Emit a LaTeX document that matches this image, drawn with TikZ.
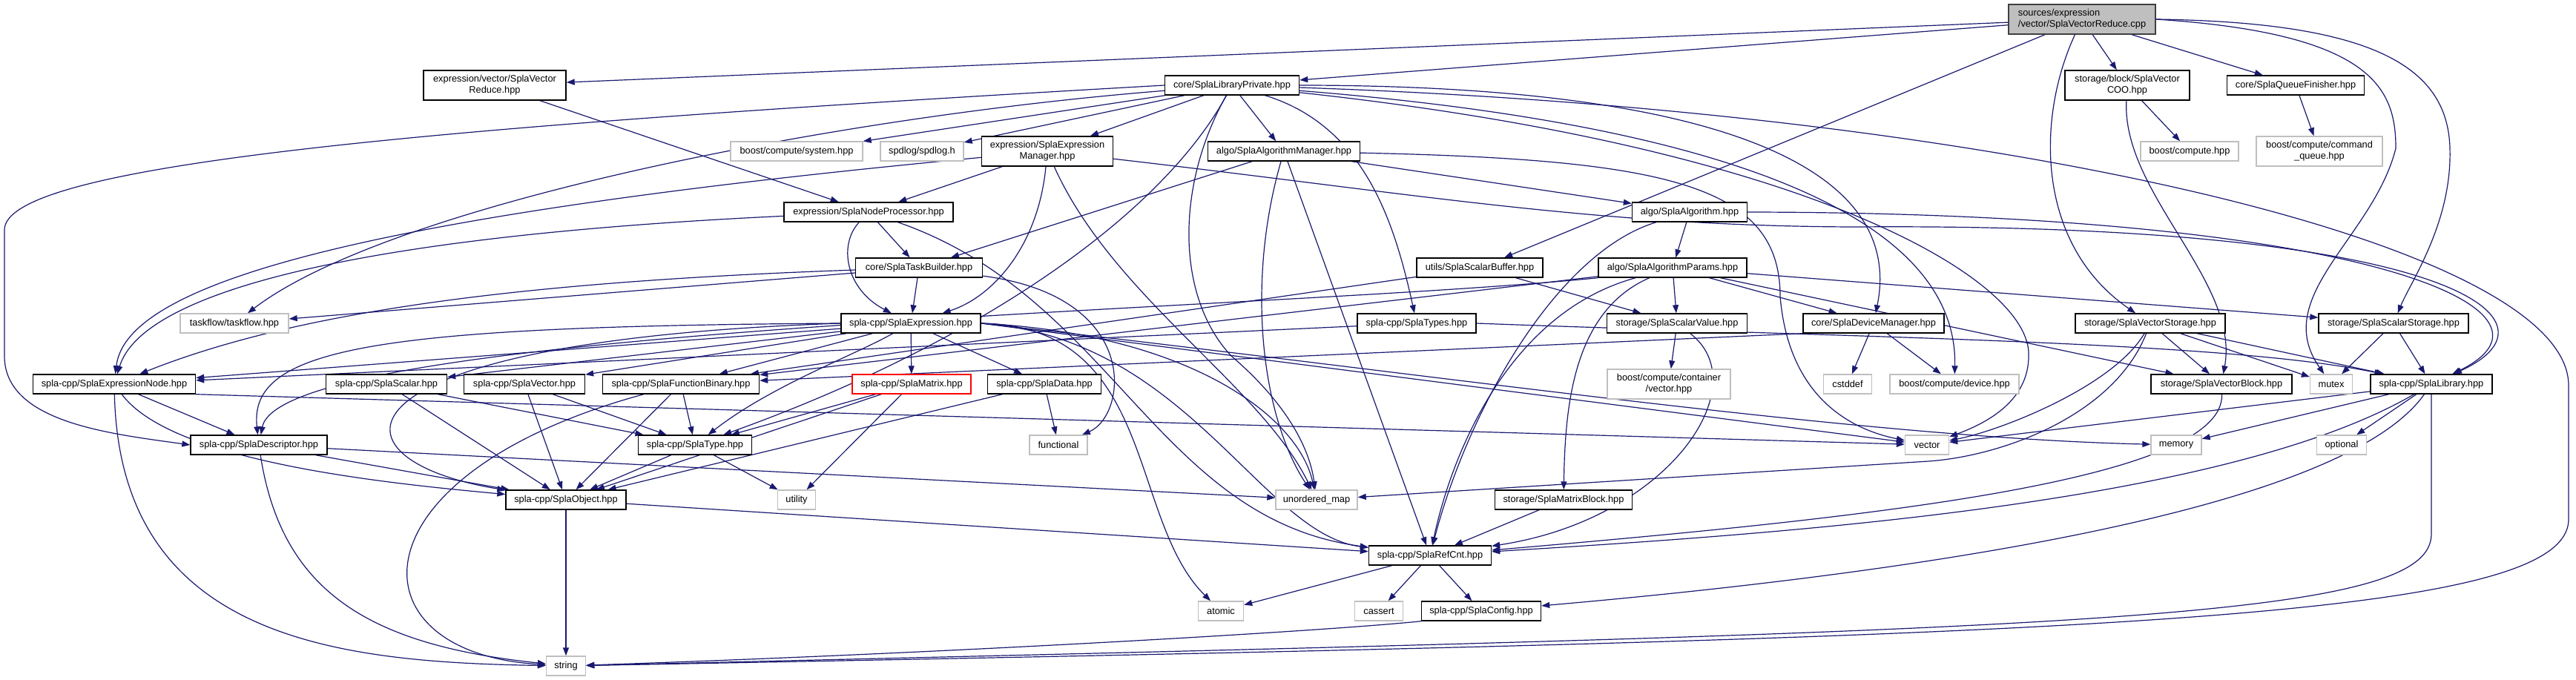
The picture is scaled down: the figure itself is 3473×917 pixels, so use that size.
\documentclass[tikz,border=0pt]{standalone}
\usepackage{fontspec}
\setmainfont{Liberation Sans}
\usetikzlibrary{arrows.meta,backgrounds}
\definecolor{edgec}{HTML}{191970}
\definecolor{extc}{HTML}{BFBFBF}
\definecolor{srcfill}{HTML}{BFBFBF}
\begin{document}
\begin{tikzpicture}[x=1pt,y=-1pt,
  every node/.style={font=\fontsize{12.8}{15}\selectfont, inner sep=0pt, outer sep=0.7pt, align=center, minimum height=26},
  docn/.style={draw=black, fill=white, line width=1.4pt},
  extn/.style={draw=extc, fill=white, line width=1.4pt},
  redn/.style={draw=red, fill=white, line width=1.4pt},
  srcn/.style={draw=black!75, fill=srcfill, line width=1.4pt, align=left, minimum height=40},
  two/.style={minimum height=40},
  edg/.style={draw=edgec, line width=1.2pt, -{Triangle[length=11pt,width=8pt]}}
]
\useasboundingbox (0,0) rectangle (3473,917);
% nodes
\node[srcn, minimum width=198] (src) at (2807,26) {sources/expression\\/vector/SplaVectorReduce.cpp};
\node[docn, two, minimum width=192] (VR) at (667,115) {expression/vector/SplaVector\\Reduce.hpp};
\node[docn, minimum width=181] (LP) at (1661,115) {core/SplaLibraryPrivate.hpp};
\node[docn, two, minimum width=168] (COO) at (2868,115) {storage/block/SplaVector\\COO.hpp};
\node[docn, minimum width=185] (QF) at (3095,115) {core/SplaQueueFinisher.hpp};
\node[extn, minimum width=178] (bsys) at (1074,204) {boost/compute/system.hpp};
\node[extn, minimum width=112] (spd) at (1243,204) {spdlog/spdlog.h};
\node[docn, two, minimum width=177] (EM) at (1412,204) {expression/SplaExpression\\Manager.hpp};
\node[docn, minimum width=205] (AM) at (1731,204) {algo/SplaAlgorithmManager.hpp};
\node[extn, minimum width=132] (bcomp) at (2952,204) {boost/compute.hpp};
\node[extn, two, minimum width=170] (cmdq) at (3127,204) {boost/compute/command\\\_queue.hpp};
\node[docn, minimum width=228] (NP) at (1171,286) {expression/SplaNodeProcessor.hpp};
\node[docn, minimum width=155] (SA) at (2278,286) {algo/SplaAlgorithm.hpp};
\node[docn, minimum width=171] (TB) at (1239,361) {core/SplaTaskBuilder.hpp};
\node[docn, minimum width=170] (SB) at (1995,361) {utils/SplaScalarBuffer.hpp};
\node[docn, minimum width=200] (AP) at (2255,361) {algo/SplaAlgorithmParams.hpp};
\node[extn, minimum width=146] (tf) at (316,436) {taskflow/taskflow.hpp};
\node[docn, minimum width=188] (SE) at (1228,436) {spla-cpp/SplaExpression.hpp};
\node[docn, minimum width=160] (Ty) at (1910,436) {spla-cpp/SplaTypes.hpp};
\node[docn, minimum width=189] (SV) at (2261,436) {storage/SplaScalarValue.hpp};
\node[docn, minimum width=190] (DM) at (2526,436) {core/SplaDeviceManager.hpp};
\node[docn, minimum width=202] (VS) at (2899,436) {storage/SplaVectorStorage.hpp};
\node[docn, minimum width=202] (SS) at (3227,436) {storage/SplaScalarStorage.hpp};
\node[docn, minimum width=219] (EN) at (154,518) {spla-cpp/SplaExpressionNode.hpp};
\node[docn, minimum width=163] (Sc) at (521,518) {spla-cpp/SplaScalar.hpp};
\node[docn, minimum width=163] (Ve) at (707,518) {spla-cpp/SplaVector.hpp};
\node[docn, minimum width=211] (FB) at (918,518) {spla-cpp/SplaFunctionBinary.hpp};
\node[redn, minimum width=160] (Ma) at (1229,518) {spla-cpp/SplaMatrix.hpp};
\node[docn, minimum width=153] (Da) at (1408,518) {spla-cpp/SplaData.hpp};
\node[extn, two, minimum width=166] (cvec) at (2250,518) {boost/compute/container\\/vector.hpp};
\node[extn, minimum width=65] (cst) at (2491,518) {cstddef};
\node[extn, minimum width=174] (bdev) at (2635,518) {boost/compute/device.hpp};
\node[docn, minimum width=190] (VB) at (2995,518) {storage/SplaVectorBlock.hpp};
\node[extn, minimum width=57] (mtx) at (3143,518) {mutex};
\node[docn, minimum width=164] (Lib) at (3278,518) {spla-cpp/SplaLibrary.hpp};
\node[docn, minimum width=184] (De) at (349,600) {spla-cpp/SplaDescriptor.hpp};
\node[docn, minimum width=153] (Typ) at (937,600) {spla-cpp/SplaType.hpp};
\node[extn, minimum width=78] (fun) at (1427,600) {functional};
\node[extn, minimum width=59] (vec) at (2598,600) {vector};
\node[extn, minimum width=68] (mem) at (2934,600) {memory};
\node[extn, minimum width=67] (opt) at (3157,600) {optional};
\node[docn, minimum width=162] (Ob) at (763,674) {spla-cpp/SplaObject.hpp};
\node[extn, minimum width=51] (uti) at (1074,674) {utility};
\node[extn, minimum width=110] (um) at (1775,674) {unordered\_map};
\node[docn, minimum width=185] (MB) at (2108,674) {storage/SplaMatrixBlock.hpp};
\node[docn, minimum width=165] (RC) at (1928,749) {spla-cpp/SplaRefCnt.hpp};
\node[extn, minimum width=61] (ato) at (1646,824) {atomic};
\node[extn, minimum width=65] (cas) at (1859,824) {cassert};
\node[docn, minimum width=161] (Cfg) at (1997,824) {spla-cpp/SplaConfig.hpp};
\node[extn, minimum width=53] (str) at (763,898) {string};
% waypoints
\coordinate (w1) at (6,310);
\coordinate (w2) at (6,480);
\coordinate (w3) at (1660,480);
\coordinate (w4) at (2600,622);
\coordinate (r1) at (3463,520);
\coordinate (r2) at (3463,700);
\coordinate (l1) at (3278,720);
\coordinate (m1) at (3230,200);
\coordinate (s1) at (3303,200);
\coordinate (e1) at (2500,306);
\coordinate (v1) at (2735,480);
\coordinate (v2) at (2400,400);
\begin{pgfonlayer}{background}
\fill[white] (0,0) rectangle (3473,917);
% source
\draw[edg] (src) -- (VR);
\draw[edg] (src) -- (LP);
\draw[edg] (src) -- (SB);
\draw[edg] (src) -- (COO);
\draw[edg] (src) -- (QF);
\draw[edg] (src) .. controls (2745,160) and (2745,330) .. (VS);
\draw[edg] (src.east) .. controls (3200,30) and (3300,90) .. (s1) .. controls (3306,300) and (3250,380) .. (SS);
\draw[edg] (src.east) .. controls (3200,45) and (3230,120) .. (m1) .. controls (3200,320) and (3060,400) .. (mtx);
\draw[edg] (VR) -- (NP);
% LibraryPrivate
\draw[edg] (LP) -- (bsys);
\draw[edg] (LP) -- (spd);
\draw[edg] (LP) -- (EM);
\draw[edg] (LP) -- (AM);
\draw[edg] (LP.west) .. controls (600,170) and (6,220) .. (w1) -- (w2) .. controls (6,570) and (150,585) .. (De.west);
\draw[edg] (LP) .. controls (1100,160) and (520,280) .. (tf);
\draw[edg] (LP) .. controls (1840,170) and (1880,300) .. (Ty);
\draw[edg] (LP) .. controls (2300,115) and (2570,220) .. (DM);
\draw[edg] (LP) .. controls (2350,170) and (2640,300) .. (bdev);
\draw[edg] (LP) .. controls (2450,200) and (2740,380) .. (v1) .. controls (2735,540) and (2680,570) .. (vec);
\draw[edg] (LP) .. controls (1585,250) and (1585,400) .. (w3) .. controls (1730,540) and (1765,600) .. (um);
\draw[edg] (LP) .. controls (1560,300) and (1300,470) .. (Typ);
\draw[edg] (LP) .. controls (2700,150) and (3463,330) .. (r1) -- (r2) .. controls (3463,840) and (2800,860) .. (str);
% ExpressionManager
\draw[edg] (EM) -- (NP);
\draw[edg] (EM) .. controls (1400,330) and (1340,400) .. (SE);
\draw[edg] (EM) .. controls (500,290) and (170,380) .. (EN);
\draw[edg] (EM) .. controls (1500,400) and (1700,520) .. (um);
\draw[edg] (EM) .. controls (1900,260) and (2150,305) .. (e1) .. controls (3300,300) and (3470,430) .. (Lib);
% AlgorithmManager
\draw[edg] (AM) -- (TB);
\draw[edg] (AM) -- (SA);
\draw[edg] (AM) -- (RC);
\draw[edg] (AM) .. controls (1680,380) and (1700,560) .. (um);
\draw[edg] (AM) .. controls (2250,215) and (2400,250) .. (v2) .. controls (2412,540) and (2500,580) .. (vec);
% NodeProcessor
\draw[edg] (NP) -- (TB);
\draw[edg] (NP) .. controls (1130,330) and (1140,390) .. (SE);
\draw[edg] (NP) .. controls (450,320) and (190,400) .. (EN);
\draw[edg] (NP) .. controls (1500,400) and (1560,700) .. (RC);
% TaskBuilder
\draw[edg] (TB) -- (tf);
\draw[edg] (TB) .. controls (700,380) and (400,420) .. (EN);
\draw[edg] (TB) -- (SE);
\draw[edg] (TB) .. controls (1540,400) and (1520,560) .. (fun);
% Algorithm
\draw[edg] (SA) -- (AP);
\draw[edg] (SA.east) .. controls (3200,287) and (3480,420) .. (Lib);
\draw[edg] (SA) .. controls (2100,340) and (1980,550) .. (RC);
% ScalarBuffer
\draw[edg] (SB) -- (SV);
\draw[edg] (SB) -- (FB);
% AlgorithmParams
\draw[edg] (AP) -- (SV);
\draw[edg] (AP) -- (DM);
\draw[edg] (AP) -- (SS);
\draw[edg] (AP) -- (VB);
\draw[edg] (AP) -- (FB);
\draw[edg] (AP) .. controls (2120,420) and (2110,550) .. (MB);
\draw[edg] (AP) .. controls (2040,420) and (1960,600) .. (RC);
\draw[edg] (AP.south west) .. controls (1700,420) and (380,440) .. (De);
% SplaExpression
\draw[edg] (SE) -- (EN);
\draw[edg] (SE.west) .. controls (500,440) and (335,470) .. (De);
\draw[edg] (SE) -- (Sc);
\draw[edg] (SE) -- (Ve);
\draw[edg] (SE) -- (FB);
\draw[edg] (SE) -- (Ma);
\draw[edg] (SE) -- (Da);
\draw[edg] (SE.west) .. controls (430,460) and (430,620) .. (Ob);
\draw[edg] (SE) .. controls (1150,480) and (1040,520) .. (Typ);
\draw[edg] (SE.east) .. controls (1560,440) and (1520,700) .. (ato);
\draw[edg] (SE.east) .. controls (1600,455) and (1700,720) .. (RC);
\draw[edg] (SE.east) .. controls (1600,450) and (1750,560) .. (um);
\draw[edg] (SE.east) -- (vec);
\draw[edg] (SE.east) .. controls (1900,500) and (2500,590) .. (mem);
% Types
\draw[edg] (Ty) -- (EN);
\draw[edg] (Ty.east) .. controls (2500,455) and (3000,460) .. (Lib);
% ScalarValue
\draw[edg] (SV) -- (cvec);
\draw[edg] (SV) .. controls (2370,520) and (2250,700) .. (RC);
% DeviceManager
\draw[edg] (DM) -- (cst);
\draw[edg] (DM) -- (bdev);
\draw[edg] (DM.south west) -- (FB);
% VectorStorage
\draw[edg] (VS) -- (VB);
\draw[edg] (VS) .. controls (2850,520) and (2700,580) .. (vec);
\draw[edg] (VS) .. controls (2850,560) and (2700,615) .. (w4) -- (um);
\draw[edg] (VS) -- (mtx);
\draw[edg] (VS) -- (Lib);
% ScalarStorage
\draw[edg] (SS) -- (mtx);
\draw[edg] (SS) -- (Lib);
% COO, QueueFinisher
\draw[edg] (COO) -- (bcomp);
\draw[edg] (COO) .. controls (2860,260) and (3020,380) .. (VB);
\draw[edg] (QF) -- (cmdq);
% ExpressionNode
\draw[edg] (EN) -- (De);
\draw[edg] (EN) .. controls (230,620) and (500,650) .. (Ob);
\draw[edg] (EN) .. controls (162,860) and (450,893) .. (str);
\draw[edg] (EN.south east) -- (vec);
% row 5
\draw[edg] (Sc) -- (Typ);
\draw[edg] (Sc) -- (Ob);
\draw[edg] (Ve) -- (Typ);
\draw[edg] (Ve) -- (Ob);
\draw[edg] (FB) -- (Typ);
\draw[edg] (FB) -- (Ob);
\draw[edg] (FB) .. controls (470,640) and (470,880) .. (str);
\draw[edg] (Ma) -- (Typ);
\draw[edg] (Ma) -- (Ob);
\draw[edg] (Ma) -- (uti);
\draw[edg] (Da) -- (fun);
\draw[edg] (Da) -- (Ob);
% Descriptor, Type
\draw[edg] (De) -- (Ob);
\draw[edg] (De) .. controls (380,800) and (500,870) .. (str);
\draw[edg] (De) -- (um);
\draw[edg] (Typ) -- (Ob);
\draw[edg] (Typ) -- (uti);
% Object
\draw[edg] (Ob) -- (str);
\draw[edg] (Ob) -- (RC);
% blocks, library
\draw[edg] (MB) -- (RC);
\draw[edg] (VB) .. controls (3000,650) and (2500,700) .. (RC);
\draw[edg] (Lib) -- (vec);
\draw[edg] (Lib) -- (mem);
\draw[edg] (Lib) -- (opt);
\draw[edg] (Lib) .. controls (3000,680) and (2400,720) .. (RC);
\draw[edg] (Lib) .. controls (3150,700) and (2500,780) .. (Cfg);
\draw[edg] (Lib) -- (l1) .. controls (3278,840) and (2800,850) .. (str);
% RefCnt, Config
\draw[edg] (RC) -- (ato);
\draw[edg] (RC) -- (cas);
\draw[edg] (RC) -- (Cfg);
\draw[edg] (Cfg.south west) .. controls (1800,850) and (1300,880) .. (str);
\end{pgfonlayer}
\end{tikzpicture}
\end{document}
